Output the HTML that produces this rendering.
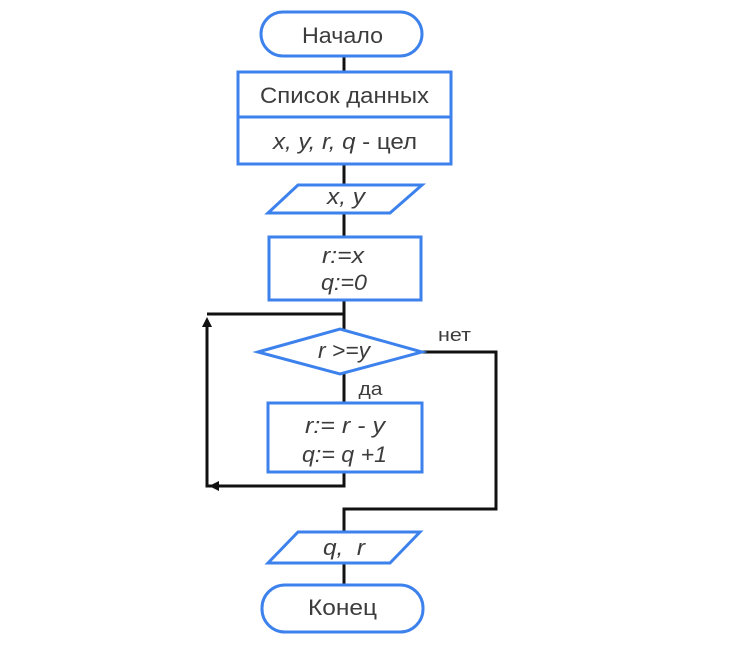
<!DOCTYPE html>
<html><head><meta charset="utf-8"><style>
html,body{margin:0;padding:0;background:#fff;}
svg{display:block;}
text{font-family:"Liberation Sans","DejaVu Sans",sans-serif;fill:#3c3c3c;}
</style></head><body>
<svg width="750" height="671" viewBox="0 0 750 671" xmlns="http://www.w3.org/2000/svg">
<defs>
<marker id="ah" markerWidth="10" markerHeight="10" refX="7" refY="5" orient="auto" markerUnits="userSpaceOnUse">
<path d="M0,0 L10,5 L0,10 Z" fill="#111"/>
</marker>
</defs>
<rect width="750" height="671" fill="#fff"/>
<!-- connectors -->
<g stroke="#111" stroke-width="3" fill="none">
<line x1="344" y1="57" x2="344" y2="72"/>
<line x1="344" y1="164" x2="344" y2="185"/>
<line x1="344" y1="213" x2="344" y2="237"/>
<line x1="344" y1="300" x2="344" y2="329"/>
<line x1="344" y1="374" x2="344" y2="403"/>
<polyline points="344,314 207,314"/>
<polyline points="344,472 344,486 207,486 207,320" marker-end="url(#ah)"/>
<polyline points="344,486 212,486" marker-end="url(#ah)"/>
<polyline points="422,352 496,352 496,509 344,509 344,532"/>
<line x1="344" y1="563" x2="344" y2="584"/>
</g>
<!-- shapes -->
<g stroke="#3d82ec" stroke-width="3" fill="#fff">
<rect x="261" y="12" width="161" height="44" rx="22" ry="22"/>
<rect x="238" y="72" width="213" height="92"/>
<line x1="238" y1="117" x2="451" y2="117"/>
<polygon points="298,185 422,185 390,213 268,213"/>
<rect x="269" y="237" width="152" height="63"/>
<polygon points="258,352 340,329 422,352 340,374"/>
<rect x="268" y="403" width="154" height="69"/>
<polygon points="298,532 420,532 390,563 268,563"/>
<rect x="262" y="585" width="161" height="47" rx="23" ry="23"/>
</g>
<!-- labels -->
<g text-anchor="middle" lengthAdjust="spacingAndGlyphs">
<text x="342.5" y="43" font-size="22" textLength="81" lengthAdjust="spacingAndGlyphs">Начало</text>
<text x="344.5" y="103" font-size="22" textLength="169" lengthAdjust="spacingAndGlyphs">Список данных</text>
<text x="345" y="149" font-size="22" textLength="144" lengthAdjust="spacingAndGlyphs"><tspan font-style="italic">x, y, r, q</tspan> - цел</text>
<text x="346" y="204" font-style="italic" font-size="22" textLength="38" lengthAdjust="spacingAndGlyphs">x, y</text>
<text x="343" y="263" font-style="italic" font-size="22" textLength="42" lengthAdjust="spacingAndGlyphs">r:=x</text>
<text x="344" y="290" font-style="italic" font-size="22" textLength="46" lengthAdjust="spacingAndGlyphs">q:=0</text>
<text x="344" y="358" font-style="italic" font-size="22" textLength="52" lengthAdjust="spacingAndGlyphs">r &gt;=y</text>
<text x="345" y="433" font-style="italic" font-size="22" textLength="80" lengthAdjust="spacingAndGlyphs">r:= r - y</text>
<text x="344.5" y="462" font-style="italic" font-size="22" textLength="85" lengthAdjust="spacingAndGlyphs">q:= q +1</text>
<text x="344" y="555" font-style="italic" font-size="22" xml:space="preserve" textLength="42" lengthAdjust="spacingAndGlyphs">q,  r</text>
<text x="342.5" y="615" font-size="22" textLength="69" lengthAdjust="spacingAndGlyphs">Конец</text>
<text x="454.5" y="341" font-size="18" textLength="33" lengthAdjust="spacingAndGlyphs">нет</text>
<text x="370.5" y="395" font-size="18" textLength="24" lengthAdjust="spacingAndGlyphs">да</text>
</g>
</svg>
</body></html>
